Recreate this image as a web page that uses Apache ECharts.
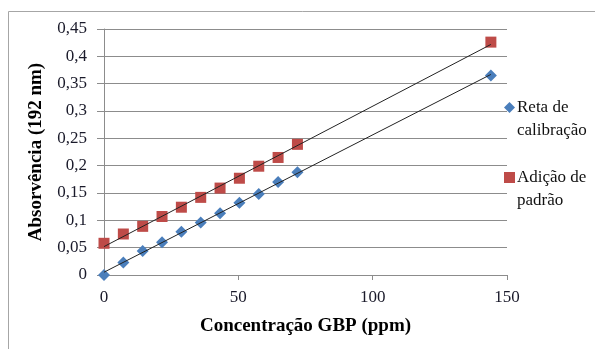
<!DOCTYPE html>
<html>
<head>
<meta charset="utf-8">
<script src="https://cdn.jsdelivr.net/npm/echarts@6/dist/echarts.min.js"></script>
<style>
  html, body { margin: 0; padding: 0; background: #fff; }
  #chart { width: 595px; height: 349px; }
</style>
</head>
<body>
<div id="chart"></div>
<script>
// concentracao (ppm)
var concCalib = [0, 7.2, 14.4, 21.6, 28.8, 36, 43.2, 50.4, 57.6, 64.8, 72, 144];
var absCalib = [0, 0.023, 0.044, 0.06, 0.079, 0.096, 0.113, 0.132, 0.148, 0.17, 0.188, 0.365];
var concAdic = [0, 7.2, 14.4, 21.6, 28.8, 36, 43.2, 50.4, 57.6, 64.8, 72, 144];
var absAdic = [0.058, 0.075, 0.089, 0.107, 0.124, 0.142, 0.159, 0.177, 0.199, 0.215, 0.239, 0.426];
var seriesNames = ['Reta de calibração', 'Adição de padrão'];
var legendLabels = ['Reta de\ncalibração', 'Adição de\npadrão'];

function pares(xs, ys) {
	var out = [];
	for (var i = 0; i < xs.length; i++) out.push([xs[i], ys[i]]);
	return out;
}
// linha de tendencia (minimos quadrados)
function tendencia(xs, ys) {
	var n = xs.length, sx = 0, sy = 0, sxx = 0, sxy = 0;
	for (var i = 0; i < n; i++) {
		sx += xs[i]; sy += ys[i];
		sxx += xs[i] * xs[i]; sxy += xs[i] * ys[i];
	}
	var b = (n * sxy - sx * sy) / (n * sxx - sx * sx);
	var a = (sy - b * sx) / n;
	var x0 = Math.min.apply(null, xs), x1 = Math.max.apply(null, xs);
	return [[x0, a + b * x0], [x1, a + b * x1]];
}

var fonte = 'Liberation Serif';
var chart = echarts.init(document.getElementById('chart'));
var option = {
	animation: false,
	textStyle: { fontFamily: fonte },
	grid: { left: 104, right: 88, top: 29, bottom: 74 },
	graphic: [{
		type: 'rect',
		shape: { x: 8.5, y: 11.5, width: 700, height: 500 },
		style: { fill: 'none', stroke: '#a6a6a6', lineWidth: 1 },
		silent: true
	}],
	legend: {
		orient: 'vertical',
		left: 499,
		top: 68,
		itemGap: 1,
		itemWidth: 11,
		itemHeight: 11,
		data: [
			{ name: seriesNames[0], icon: 'diamond' },
			{ name: seriesNames[1], icon: 'rect' }
		],
		formatter: function (name) {
			return '\n' + legendLabels[seriesNames.indexOf(name)];
		},
		textStyle: { fontFamily: fonte, fontSize: 17, color: '#111', lineHeight: 23, padding: [0, 0, 0, -3] }
	},
	xAxis: {
		type: 'value',
		min: 0,
		max: 150,
		interval: 50,
		name: 'Concentração GBP (ppm)',
		nameLocation: 'middle',
		nameGap: 42,
		nameTextStyle: { fontFamily: fonte, fontSize: 19, fontWeight: 'bold', color: '#000' },
		axisLine: { lineStyle: { color: '#8c8c8c' } },
		axisTick: { show: true, inside: false, length: 5, lineStyle: { color: '#8c8c8c' } },
		axisLabel: { fontFamily: fonte, fontSize: 17, color: '#1a1a2a', margin: 14 },
		splitLine: { show: false }
	},
	yAxis: {
		type: 'value',
		min: 0,
		max: 0.45,
		interval: 0.05,
		name: 'Absorvência (192 nm)',
		nameLocation: 'middle',
		nameGap: 58,
		nameRotate: 90,
		nameTextStyle: { fontFamily: fonte, fontSize: 19, fontWeight: 'bold', color: '#000' },
		axisLine: { show: true, lineStyle: { color: '#8c8c8c' } },
		axisTick: { show: true, inside: false, length: 7, lineStyle: { color: '#8c8c8c' } },
		axisLabel: {
			fontFamily: fonte, fontSize: 17, color: '#1a1a2a', margin: 17,
			formatter: function (v) {
				return String(Math.round(v * 100) / 100).replace('.', ',');
			}
		},
		splitLine: { show: true, lineStyle: { color: '#8c8c8c', width: 1 } }
	},
	series: [
		{
			name: 'tend1',
			type: 'line',
			data: tendencia(concCalib, absCalib),
			showSymbol: false,
			lineStyle: { color: '#222', width: 1 },
			silent: true,
			z: 3
		},
		{
			name: 'tend2',
			type: 'line',
			data: tendencia(concAdic, absAdic),
			showSymbol: false,
			lineStyle: { color: '#222', width: 1 },
			silent: true,
			z: 3
		},
		{
			name: seriesNames[0],
			type: 'scatter',
			symbol: 'diamond',
			symbolSize: 12,
			itemStyle: { color: '#4a7ebb', opacity: 1 },
			data: pares(concCalib, absCalib),
			z: 2
		},
		{
			name: seriesNames[1],
			type: 'scatter',
			symbol: 'rect',
			symbolSize: 11,
			itemStyle: { color: '#be4b48', opacity: 1 },
			data: pares(concAdic, absAdic),
			z: 2
		}
	]
};
chart.setOption(option);
window.onresize = chart.resize;
</script>
</body>
</html>
